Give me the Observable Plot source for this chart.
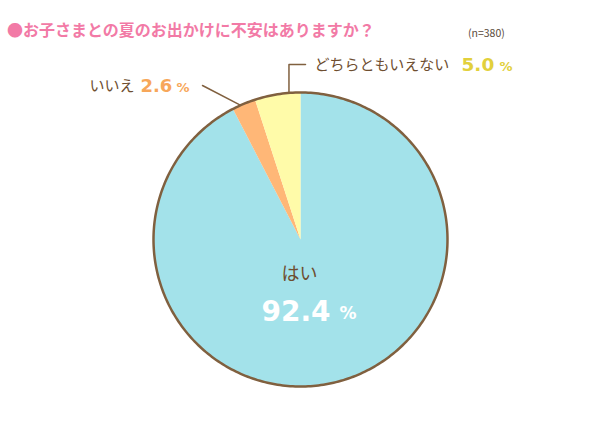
<!DOCTYPE html>
<html><head><meta charset="utf-8">
<script src="https://cdn.jsdelivr.net/npm/d3@7"></script>
<script src="https://cdn.jsdelivr.net/npm/@observablehq/plot@0.6"></script>
<style>
html,body{margin:0;padding:0;background:#fff;}
#wrap{position:relative;width:600px;height:448px;overflow:hidden;}
#title{position:absolute;left:7px;top:17px;font-family:"Noto Sans CJK JP",sans-serif;font-weight:700;font-size:16px;color:#f27aa6;white-space:nowrap;}
#note{position:absolute;left:468px;top:25px;font-family:"Noto Sans CJK JP",sans-serif;font-size:10.5px;color:#5a4a3a;}
#chart{position:absolute;left:0;top:0;}
</style></head>
<body><div id="wrap"><div id="chart"></div><div id="title"></div><div id="note"></div></div>
<script>
// data
const title = "お子さまとの夏のお出かけに不安はありますか？";
const sampleNote = "(n=380)";
const categories = ["はい", "いいえ", "どちらともいえない"];
const values = [92.4, 2.6, 5.0];

document.getElementById("title").textContent = "●" + title;
document.getElementById("note").textContent = sampleNote;

// styles / layout
const sliceColors = ["#a3e2ea", "#ffb777", "#fffba9"];
const pctColors = ["#ffffff", "#f7a75a", "#e2d03c"];
const brown = "#6e4e30";
const rimColor = "#80603f";
const cx = 300, cy = 239, R = 147;
const jp = "Noto Sans CJK JP, sans-serif";
const num = "DejaVu Sans, sans-serif";

const arcs = d3.pie().sort(null).value(d => d)(values);
const pt = (a, r = R) => ({x: cx + r * Math.sin(a), y: cy - r * Math.cos(a)});

const slicePts = [];
arcs.forEach((a, i) => {
  slicePts.push({k: i, ...pt(0, 0)});
  const n = Math.max(4, Math.ceil((a.endAngle - a.startAngle) / 0.01));
  for (let j = 0; j <= n; j++) {
    const t = a.startAngle + (a.endAngle - a.startAngle) * j / n;
    slicePts.push({k: i, ...pt(t)});
  }
});
const rimPts = d3.range(0, 361).map(d => pt(d * Math.PI / 180));

// leader lines
const mid1 = pt((arcs[1].startAngle + arcs[1].endAngle) / 2);
const anchor2 = pt(arcs[2].startAngle + 0.75 * (arcs[2].endAngle - arcs[2].startAngle));
const leaders = [
  {k: 1, x: 202, y: 85}, {k: 1, x: mid1.x - 4, y: mid1.y + 1},
  {k: 2, x: 305, y: 64}, {k: 2, x: anchor2.x, y: 64}, {k: 2, x: anchor2.x, y: anchor2.y}
];

const fmt = v => v.toFixed(1);
// label layout
const L = [
  {nx: 299, ny: 274, vx: 261, vy: 312, vs: 28, px: 339, ps: 17},
  {nx: 134, ny: 86, vx: 140, vy: 86, vs: 18, px: 176, ps: 13},
  {nx: 314, ny: 65, vx: 461, vy: 65, vs: 18.5, px: 499, ps: 13}
].map((d, i) => ({...d, name: categories[i], value: fmt(values[i]), color: pctColors[i]}));

const pctMarks = L.map(d => [
  Plot.text([d], {x: "vx", y: "vy", text: "value", textAnchor: "start", fontSize: d.vs, fontWeight: 700, fill: d.color, fontFamily: num}),
  Plot.text([d], {x: "px", y: "vy", text: () => "%", textAnchor: "start", fontSize: d.ps, fontWeight: 700, fill: d.color, fontFamily: num, dy: 1})
]);

const plot = Plot.plot({
  width: 600, height: 448,
  margin: 0,
  x: {domain: [0, 600], range: [0, 600], axis: null},
  y: {domain: [0, 448], range: [0, 448], axis: null},
  style: {background: "transparent"},
  marks: [
    Plot.line(slicePts, {x: "x", y: "y", z: "k", fill: d => sliceColors[d.k], stroke: "none", curve: "linear-closed"}),
    Plot.line(rimPts, {x: "x", y: "y", stroke: rimColor, strokeWidth: 2.5, curve: "linear-closed"}),
    Plot.line(leaders, {x: "x", y: "y", z: "k", stroke: rimColor, strokeWidth: 1.5}),
    Plot.text([L[0]], {x: "nx", y: "ny", text: "name", textAnchor: "middle", fontSize: 18, fill: brown, fontFamily: jp}),
    Plot.text([L[1]], {x: "nx", y: "ny", text: "name", textAnchor: "end", fontSize: 15, fill: brown, fontFamily: jp}),
    Plot.text([L[2]], {x: "nx", y: "ny", text: "name", textAnchor: "start", fontSize: 15, fill: brown, fontFamily: jp}),
    ...pctMarks.flat()
  ]
});
document.getElementById("chart").appendChild(plot);
</script>
</body></html>
